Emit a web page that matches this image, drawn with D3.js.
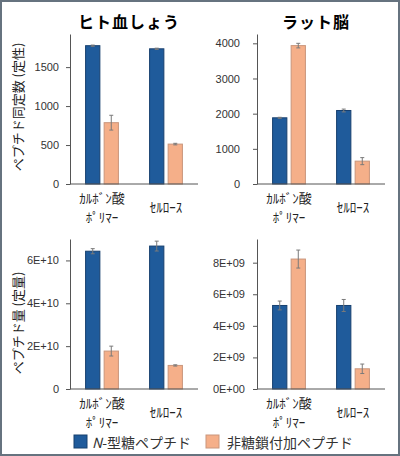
<!DOCTYPE html>
<html>
<head>
<meta charset="utf-8">
<script src="https://cdn.jsdelivr.net/npm/d3@7"></script>
<style>
  body { margin: 0; background: #fff; }
  svg { display: block; font-family: 'Noto Sans CJK JP', 'Noto Sans', sans-serif; }
  .tick text { fill: #333; font-size: 11px; }
  .tick line, .domain { stroke: #555; }
</style>
</head>
<body>
<div id="chart"></div>
<script>
// categories (half-width katakana, as in the original)
const categories = [['ｶﾙﾎﾞﾝ酸', 'ﾎﾟﾘﾏｰ'], ['ｾﾙﾛｰｽ']]
const series = ['N', 'non']
const seriesLabels = ['-型糖ペプチド', '非糖鎖付加ペプチド']
const titles = ['ヒト血しょう', 'ラット脳']
const yLabels = ['ペプチド同定数 (定性)', 'ペプチド量 (定量)']

// plasma, identification count
const plasmaIdN = [1775, 1735]
const plasmaIdNErr = [8, 8]
const plasmaIdNon = [787, 512]
const plasmaIdNonErr = [95, 10]
// brain, identification count
const brainIdN = [1882, 2090]
const brainIdNErr = [15, 40]
const brainIdNon = [3935, 650]
const brainIdNonErr = [65, 100]
// plasma, quantity
const plasmaQtN = [6.43e10, 6.67e10]
const plasmaQtNErr = [0.12e10, 0.23e10]
const plasmaQtNon = [1.77e10, 1.1e10]
const plasmaQtNonErr = [0.23e10, 0.03e10]
// brain, quantity
const brainQtN = [5.29e9, 5.29e9]
const brainQtNErr = [0.28e9, 0.38e9]
const brainQtNon = [8.23e9, 1.28e9]
const brainQtNonErr = [0.57e9, 0.3e9]

const plasmaIdTicks = [0, 500, 1000, 1500]
const brainIdTicks = [0, 1000, 2000, 3000, 4000]
const plasmaQtTicks = [0, 2e10, 4e10, 6e10]
const plasmaQtTickLabels = ['0', '2E+10', '4E+10', '6E+10']
const brainQtTicks = [0, 2e9, 4e9, 6e9, 8e9]
const brainQtTickLabels = ['0E+00', '2E+09', '4E+09', '6E+09', '8E+09']

const colors = { N: '#1f5b9b', non: '#f5af89' }
const strokes = { N: '#17406f', non: '#c9967c' }

const width = 400
const height = 456
const plotWidth = 128
const plotHeight = 150

const svg = d3
  .select('#chart')
  .append('svg')
  .attr('width', width)
  .attr('height', height)

svg
  .append('rect')
  .attr('x', 1)
  .attr('y', 1)
  .attr('width', width - 2)
  .attr('height', height - 2)
  .attr('fill', 'none')
  .attr('stroke', '#66737f')
  .attr('stroke-width', 2)

function toRows(n, nErr, non, nonErr) {
  return categories.map((c, i) => ({
    cat: i,
    values: [
      { key: 'N', v: n[i], e: nErr[i] },
      { key: 'non', v: non[i], e: nonErr[i] }
    ]
  }))
}

const panels = [
  { left: 70, top: 34, max: 1925, ticks: plasmaIdTicks, fmt: d3.format('d'), pad: 7,
    rows: toRows(plasmaIdN, plasmaIdNErr, plasmaIdNon, plasmaIdNonErr), title: titles[0] },
  { left: 257, top: 34, max: 4265, ticks: brainIdTicks, fmt: d3.format('d'), pad: 13,
    rows: toRows(brainIdN, brainIdNErr, brainIdNon, brainIdNonErr), title: titles[1] },
  { left: 70, top: 239, max: 7e10, ticks: plasmaQtTicks, fmt: (d, i) => plasmaQtTickLabels[i], pad: 7,
    rows: toRows(plasmaQtN, plasmaQtNErr, plasmaQtNon, plasmaQtNonErr) },
  { left: 257, top: 239, max: 9.5e9, ticks: brainQtTicks, fmt: (d, i) => brainQtTickLabels[i], pad: 8,
    rows: toRows(brainQtN, brainQtNErr, brainQtNon, brainQtNonErr) }
]

panels.forEach(function(p) {
  const g = svg.append('g').attr('transform', 'translate(' + p.left + ',' + p.top + ')')

  const xScale = d3.scaleBand().domain(d3.range(categories.length)).range([0, plotWidth])
  const innerScale = d3
    .scaleBand()
    .domain(series)
    .range([0, xScale.bandwidth()])
    .paddingInner(0.23)
    .paddingOuter(0.84)
  const yScale = d3.scaleLinear().domain([0, p.max]).range([plotHeight, 0])

  const yAxis = d3
    .axisLeft(yScale)
    .tickValues(p.ticks)
    .tickFormat(p.fmt)
    .tickSize(4)
    .tickSizeOuter(0)
    .tickPadding(p.pad)
  g.append('g').attr('class', 'axis y-axis').call(yAxis)

  const groups = g
    .selectAll('.group')
    .data(p.rows)
    .enter()
    .append('g')
    .attr('class', 'group')
    .attr('transform', d => 'translate(' + xScale(d.cat) + ',0)')

  groups
    .selectAll('rect')
    .data(d => d.values)
    .enter()
    .append('rect')
    .attr('x', d => innerScale(d.key))
    .attr('y', d => yScale(d.v))
    .attr('width', innerScale.bandwidth())
    .attr('height', d => plotHeight - yScale(d.v))
    .attr('fill', d => colors[d.key])
    .attr('stroke', d => strokes[d.key])
    .attr('stroke-width', 1)

  // error bars
  const err = groups
    .selectAll('.err')
    .data(d => d.values)
    .enter()
    .append('g')
    .attr('class', 'err')
    .attr('stroke', '#7a7a7a')
    .attr('stroke-width', 1)
  err
    .append('line')
    .attr('x1', d => innerScale(d.key) + innerScale.bandwidth() / 2)
    .attr('x2', d => innerScale(d.key) + innerScale.bandwidth() / 2)
    .attr('y1', d => yScale(d.v - d.e))
    .attr('y2', d => yScale(d.v + d.e))
  err
    .selectAll('.cap')
    .data(d => [
      { key: d.key, y: d.v - d.e },
      { key: d.key, y: d.v + d.e }
    ])
    .enter()
    .append('line')
    .attr('x1', d => innerScale(d.key) + innerScale.bandwidth() / 2 - 2)
    .attr('x2', d => innerScale(d.key) + innerScale.bandwidth() / 2 + 2)
    .attr('y1', d => yScale(d.y))
    .attr('y2', d => yScale(d.y))

  // baseline
  g.append('line')
    .attr('x1', 0)
    .attr('x2', plotWidth)
    .attr('y1', plotHeight)
    .attr('y2', plotHeight)
    .attr('stroke', '#555')

  // category labels, one text per line
  groups
    .selectAll('.cat-label')
    .data(d => categories[d.cat].map((line, i, all) => ({ line: line, i: i, n: all.length })))
    .enter()
    .append('text')
    .attr('class', 'cat-label')
    .attr('x', xScale.bandwidth() / 2)
    .attr('y', d => plotHeight + (d.n > 1 ? 13.5 + d.i * 19 : 22))
    .attr('text-anchor', 'middle')
    .attr('dominant-baseline', 'central')
    .style('font-size', '13px')
    .style('fill', '#222')
    .text(d => d.line)

  if (p.title) {
    g.append('text')
      .attr('x', plotWidth / 2 - 5)
      .attr('y', -13)
      .attr('text-anchor', 'middle')
      .attr('dominant-baseline', 'central')
      .style('font-size', '16px')
      .style('font-weight', 'bold')
      .style('letter-spacing', '1px')
      .text(p.title)
  }
})

// y-axis titles
yLabels.forEach(function(label, i) {
  const cy = i === 0 ? 107 : 323
  svg
    .append('text')
    .attr('transform', 'translate(17,' + cy + ') rotate(-90)')
    .attr('text-anchor', 'middle')
    .attr('dominant-baseline', 'central')
    .style('font-size', '13px')
    .style('fill', '#222')
    .text(label)
})

// legend
const legendX = [74, 206]
series.forEach(function(s, i) {
  svg
    .append('rect')
    .attr('x', legendX[i])
    .attr('y', 435)
    .attr('width', 13)
    .attr('height', 13)
    .attr('fill', colors[s])
    .attr('stroke', strokes[s])
  const t = svg
    .append('text')
    .attr('x', legendX[i] + (i === 0 ? 18 : 21))
    .attr('y', 441.5)
    .attr('dominant-baseline', 'central')
    .style('font-size', '14px')
    .style('fill', '#333')
  if (s === 'N') {
    t.append('tspan').style('font-style', 'italic').text('N')
  }
  t.append('tspan').text(seriesLabels[i])
})
</script>
</body>
</html>
